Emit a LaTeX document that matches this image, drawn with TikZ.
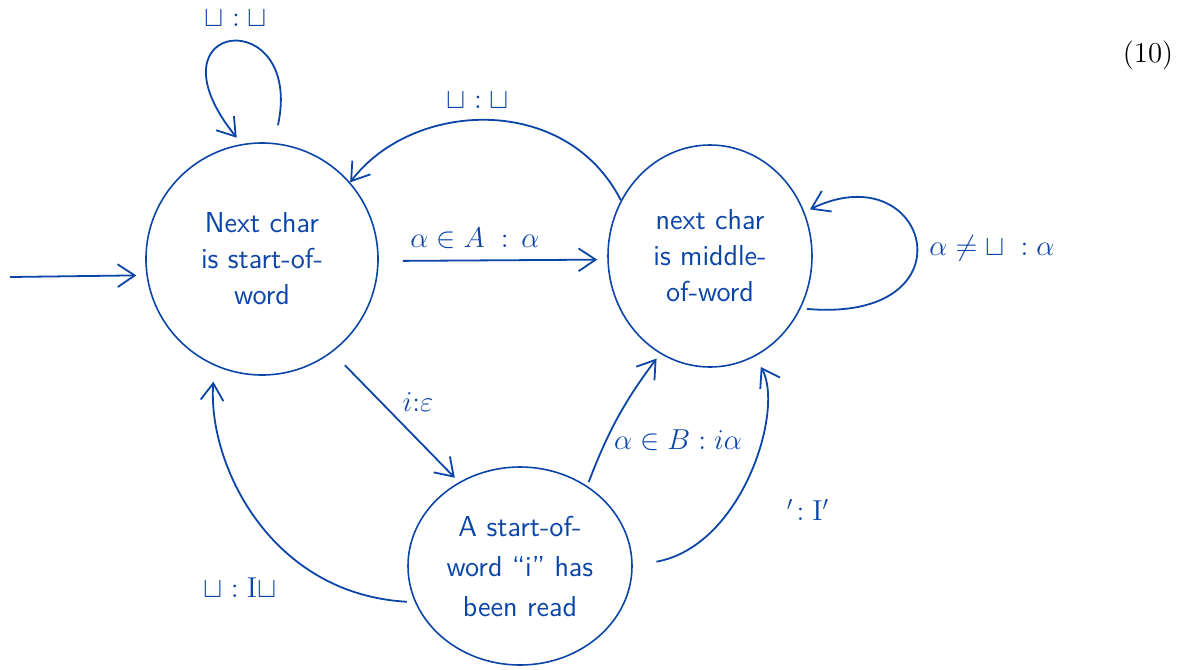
\documentclass[tikz,border=0pt]{standalone}
\usepackage{xcolor}
\usepackage{tikz}
\usetikzlibrary{arrows.meta,positioning,shapes.geometric}
\definecolor{inkblue}{HTML}{0B45A8}

\begin{document}
\begin{tikzpicture}[
  x=0.5pt, y=-0.5pt,
  state/.style={
    ellipse,
    draw=inkblue,
    line width=0.8pt,
    inner sep=0pt,
    align=center,
    text=inkblue,
    font=\Large\sffamily
  },
  lbl/.style={
    text=inkblue,
    inner sep=1pt,
    font=\Large
  },
  arrow/.style={-{Straight Barb[length=3mm,width=4mm]}, line width=0.9pt, draw=inkblue}
]
\useasboundingbox (0,0) rectangle (1185,670);

\node[state, minimum width=116pt, minimum height=116pt] (start) at (262,259) {
  Next char\\
  is start-of-\\
  word
};

\node[state, minimum width=102pt, minimum height=111pt] (middle) at (710,256) {
  next char\\
  is middle-\\
  of-word
};

\node[state, minimum width=112pt, minimum height=99pt] (readi) at (520,566) {
  A start-of-\\[2pt]
  word ``i'' has\\[2pt]
  been read
};

\coordinate (init) at (10,277);

\draw[arrow, shorten >=5pt] (init) -- (start.188);
\draw[arrow, shorten <=9pt, shorten >=4pt] (start.84) .. controls +(30,-140) and +(-100,-125) .. (start.100);
\draw[arrow] (middle.148) .. controls +(-55,-108) and +(62,-82) .. (start.41);
\draw[arrow, shorten <=12pt, shorten >=5pt] (start.-1) -- (middle.182);
\draw[arrow, shorten <=3pt, shorten >=3pt] (middle.-30) .. controls +(175,15) and +(125,-60) .. (middle.25);
\draw[arrow, shorten <=9pt, shorten >=3pt] (start.-53) -- (readi.126);
\draw[arrow, shorten <=2pt, shorten >=3pt] (readi.50) to[bend left=8] (middle.-117);
\draw[arrow, shorten <=12pt, shorten >=6pt] (readi.0) .. controls +(110,-20) and +(30,52) .. (middle.-66);
\draw[arrow, shorten <=4pt, shorten >=8pt] (readi.199) .. controls +(-145,-8) and +(-7,98) .. (start.-114);

\node[lbl] (lloop) at (236,18) {$\sqcup:\sqcup$};
\node[lbl] (lback) at (478,100) {$\sqcup:\sqcup$};
\node[lbl] (lA) at (475,238) {$\alpha\in A\;:\,\alpha$};
\node[lbl] (lmid) at (992,248) {$\alpha\neq\sqcup\;:\alpha$};
\node[lbl] (leps) at (418,402) {$i{:}\varepsilon$};
\node[lbl] (lB) at (678,440) {$\alpha\in B : i\alpha$};
\node[lbl] (lapo) at (808,510) {$'\!:\mathrm{I}'$};
\node[lbl] (lsp) at (240,588) {$\sqcup:\mathrm{I}\sqcup$};

\node[font=\Large] (eqno) at (1148,55) {(10)};

\end{tikzpicture}
\end{document}
